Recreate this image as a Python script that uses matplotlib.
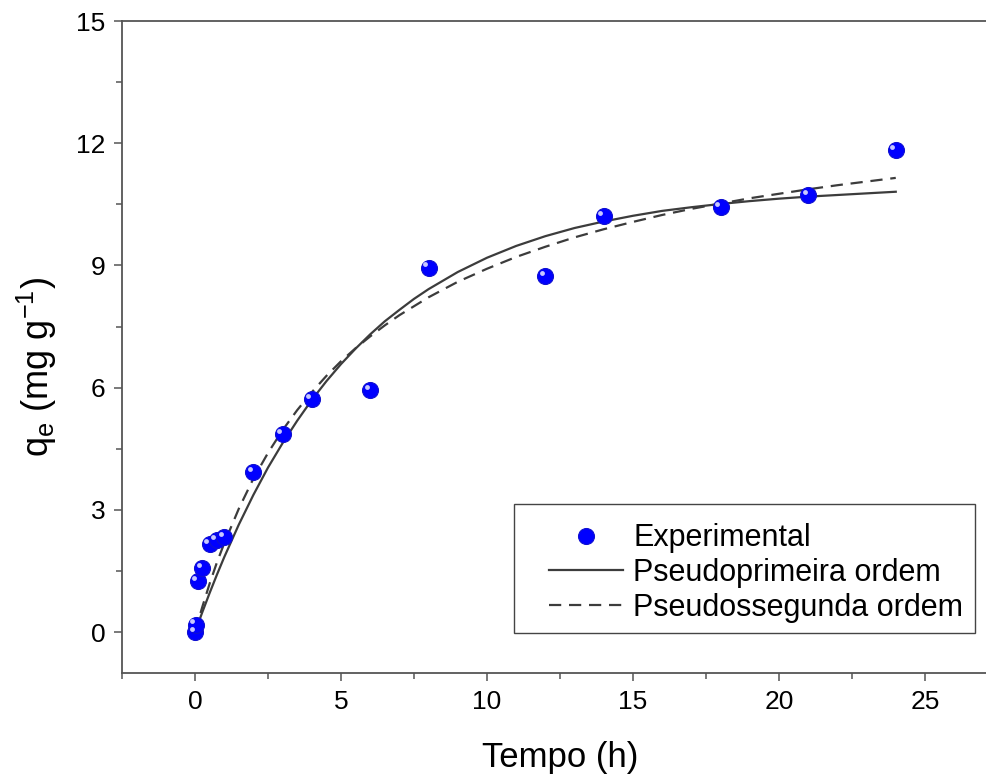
import matplotlib
matplotlib.use("Agg")
import matplotlib.pyplot as plt
from matplotlib.ticker import MultipleLocator
from matplotlib.transforms import offset_copy
from matplotlib.patches import Rectangle

plt.rcParams['font.family'] = ['Liberation Sans', 'DejaVu Sans']
plt.rcParams['mathtext.fontset'] = 'custom'
plt.rcParams['mathtext.rm'] = 'Liberation Sans'
plt.rcParams['mathtext.it'] = 'Liberation Sans'

# dados experimentais
t_exp = [0, 0.02, 0.1, 0.25, 0.5, 0.75, 1, 2, 3, 4, 6, 8, 12, 14, 18, 21, 24]
q_exp = [0.0, 0.18, 1.25, 1.57, 2.16, 2.26, 2.33, 3.93, 4.86, 5.72, 5.94,
         8.94, 8.74, 10.21, 10.43, 10.73, 11.83]

# curvas ajustadas
t_fit = [0, 0.25, 0.5, 0.75, 1, 1.5, 2, 2.5, 3, 3.5, 4, 4.5, 5, 5.5, 6, 6.5, 7, 7.5,
         8, 9, 10, 11, 12, 13, 14, 15, 16, 17, 18, 19, 20, 21, 22, 23, 24]
q_pfo = [0.0, 0.49, 0.96, 1.41, 1.84, 2.64, 3.37, 4.04, 4.64, 5.19, 5.70, 6.16,
         6.58, 6.96, 7.31, 7.63, 7.91, 8.18, 8.42, 8.84, 9.19, 9.48, 9.72, 9.92,
         10.08, 10.22, 10.34, 10.43, 10.51, 10.58, 10.64, 10.69, 10.73, 10.77, 10.81]
q_pso = [0.0, 0.62, 1.19, 1.71, 2.18, 3.03, 3.77, 4.40, 4.96, 5.45, 5.89, 6.29,
         6.65, 6.97, 7.26, 7.53, 7.78, 8.00, 8.22, 8.60, 8.92, 9.21, 9.46, 9.69,
         9.89, 10.07, 10.24, 10.39, 10.52, 10.65, 10.76, 10.87, 10.97, 11.06, 11.15]

cor_eixo = '#555555'
cor_linha = '#3c3c3c'

fig = plt.figure(figsize=(9.87, 7.78), dpi=100)
ax = fig.add_axes([0.1236, 0.135, 0.8875, 0.838])

ax.plot(t_fit, q_pfo, '-', color=cor_linha, lw=1.6, label='Pseudoprimeira ordem', zorder=2)
ax.plot(t_fit, q_pso, '--', color=cor_linha, lw=1.6, dashes=(5.5, 3.5),
        label='Pseudossegunda ordem', zorder=2)

# esferas azuis
ax.plot(t_exp, q_exp, 'o', ms=11.5, color='#0000ff', mec='#1010d0', mew=0.8,
        ls='none', label='Experimental', zorder=3)
brilho = offset_copy(ax.transData, fig=fig, x=-2.5, y=2.5, units='points')
ax.plot(t_exp, q_exp, 'o', ms=3.5, color='#c8c8ff', mec='none', ls='none',
        transform=brilho, zorder=4)

ax.set_xlim(-2.5, 27.5)
ax.set_ylim(-1, 15)
ax.xaxis.set_major_locator(MultipleLocator(5))
ax.xaxis.set_minor_locator(MultipleLocator(2.5))
ax.yaxis.set_major_locator(MultipleLocator(3))
ax.yaxis.set_minor_locator(MultipleLocator(1.5))

for s in ['left', 'bottom', 'top']:
    ax.spines[s].set_color(cor_eixo)
    ax.spines[s].set_linewidth(1.3)
ax.spines['right'].set_visible(False)

ax.tick_params(which='major', direction='out', length=6, width=1.1, color=cor_eixo,
               labelsize=19, pad=6, top=False, right=False)
ax.tick_params(which='minor', direction='out', length=4, width=1.1, color=cor_eixo,
               top=False, right=False)

ax.set_xlabel('Tempo (h)', fontsize=25, labelpad=20)
ax.set_ylabel('q$_{\\mathregular{e}}$ (mg g$^{\\mathregular{-1}}$)', fontsize=26)
ax.yaxis.set_label_coords(-0.072, 0.469)

# legenda: moldura desenhada a parte
h, l = ax.get_legend_handles_labels()
ordem = [2, 0, 1]
leg = ax.legend([h[i] for i in ordem], [l[i] for i in ordem], loc='center left',
                bbox_to_anchor=(549 / 987, 1 - 573 / 778), bbox_transform=fig.transFigure,
                fontsize=22, frameon=False, handlelength=2.42, handletextpad=0.33,
                labelspacing=0.15, borderpad=0, borderaxespad=0)
fig.patches.append(Rectangle((514 / 987, 1 - 633 / 778), 461 / 987, 129 / 778,
                             transform=fig.transFigure, fill=False,
                             edgecolor='#444444', lw=1.0, zorder=5))

fig.savefig('out.png', dpi=100)
